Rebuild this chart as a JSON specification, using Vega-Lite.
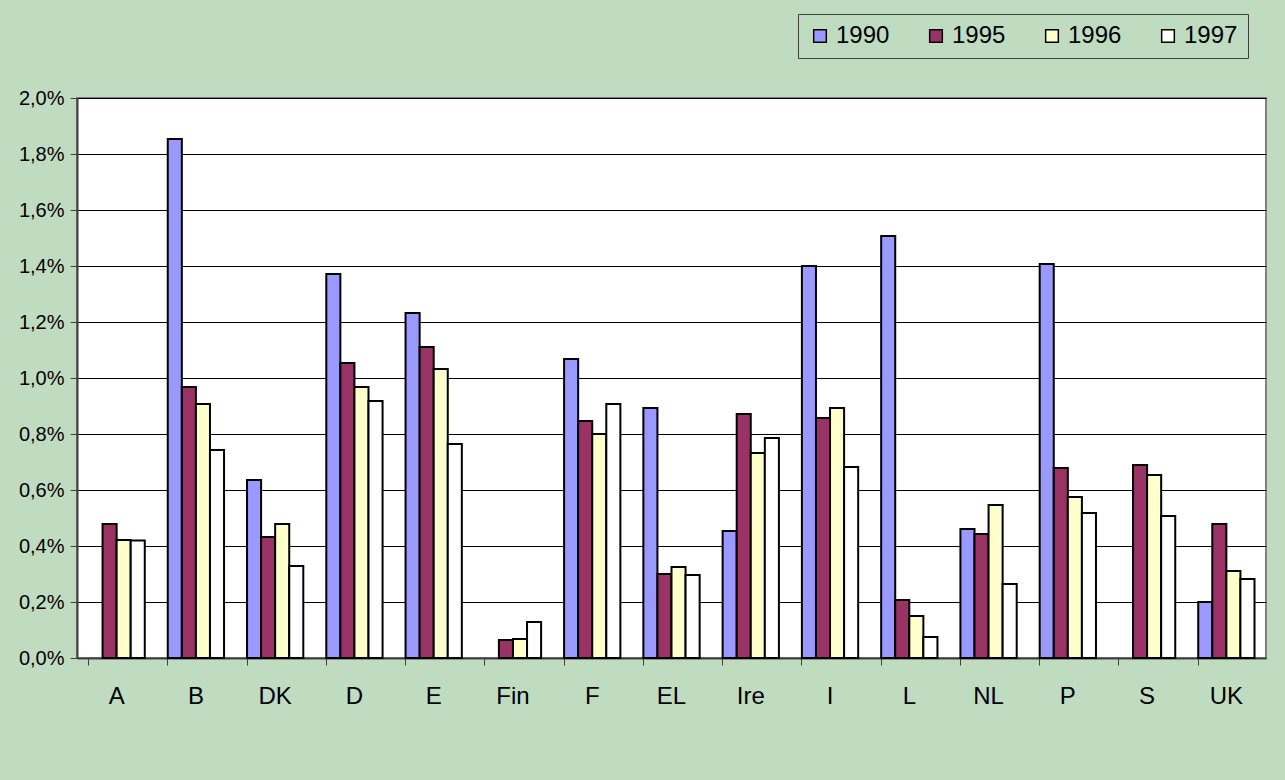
{
  "$schema": "https://vega.github.io/schema/vega-lite/v6.json",
  "width": 1189,
  "height": 560,
  "autosize": {"type": "none"},
  "padding": {"left": 77, "top": 98, "right": 19, "bottom": 122},
  "background": "#C0DCC0",
  "config": {
    "locale": {"number": {"decimal": ",", "thousands": ".", "grouping": [3], "currency": ["", " €"]}},
    "font": "Liberation Sans",
    "view": {"fill": "white", "stroke": "#808080", "strokeWidth": 2}
  },
  "data": {
    "values": [
      {"country": "A", "year": "1995", "value": 0.00479},
      {"country": "A", "year": "1996", "value": 0.00421},
      {"country": "A", "year": "1997", "value": 0.0042},
      {"country": "B", "year": "1990", "value": 0.01854},
      {"country": "B", "year": "1995", "value": 0.00968},
      {"country": "B", "year": "1996", "value": 0.00907},
      {"country": "B", "year": "1997", "value": 0.00743},
      {"country": "DK", "year": "1990", "value": 0.00636},
      {"country": "DK", "year": "1995", "value": 0.00432},
      {"country": "DK", "year": "1996", "value": 0.00479},
      {"country": "DK", "year": "1997", "value": 0.00329},
      {"country": "D", "year": "1990", "value": 0.01371},
      {"country": "D", "year": "1995", "value": 0.01054},
      {"country": "D", "year": "1996", "value": 0.00968},
      {"country": "D", "year": "1997", "value": 0.00918},
      {"country": "E", "year": "1990", "value": 0.01232},
      {"country": "E", "year": "1995", "value": 0.01111},
      {"country": "E", "year": "1996", "value": 0.01032},
      {"country": "E", "year": "1997", "value": 0.00764},
      {"country": "Fin", "year": "1995", "value": 0.00064},
      {"country": "Fin", "year": "1996", "value": 0.00068},
      {"country": "Fin", "year": "1997", "value": 0.00129},
      {"country": "F", "year": "1990", "value": 0.01068},
      {"country": "F", "year": "1995", "value": 0.00846},
      {"country": "F", "year": "1996", "value": 0.008},
      {"country": "F", "year": "1997", "value": 0.00907},
      {"country": "EL", "year": "1990", "value": 0.00893},
      {"country": "EL", "year": "1995", "value": 0.003},
      {"country": "EL", "year": "1996", "value": 0.00325},
      {"country": "EL", "year": "1997", "value": 0.00296},
      {"country": "Ire", "year": "1990", "value": 0.00454},
      {"country": "Ire", "year": "1995", "value": 0.00871},
      {"country": "Ire", "year": "1996", "value": 0.00732},
      {"country": "Ire", "year": "1997", "value": 0.00786},
      {"country": "I", "year": "1990", "value": 0.014},
      {"country": "I", "year": "1995", "value": 0.00857},
      {"country": "I", "year": "1996", "value": 0.00893},
      {"country": "I", "year": "1997", "value": 0.00682},
      {"country": "L", "year": "1990", "value": 0.01507},
      {"country": "L", "year": "1995", "value": 0.00207},
      {"country": "L", "year": "1996", "value": 0.0015},
      {"country": "L", "year": "1997", "value": 0.00075},
      {"country": "NL", "year": "1990", "value": 0.00461},
      {"country": "NL", "year": "1995", "value": 0.00443},
      {"country": "NL", "year": "1996", "value": 0.00546},
      {"country": "NL", "year": "1997", "value": 0.00264},
      {"country": "P", "year": "1990", "value": 0.01407},
      {"country": "P", "year": "1995", "value": 0.00679},
      {"country": "P", "year": "1996", "value": 0.00575},
      {"country": "P", "year": "1997", "value": 0.00518},
      {"country": "S", "year": "1995", "value": 0.00689},
      {"country": "S", "year": "1996", "value": 0.00654},
      {"country": "S", "year": "1997", "value": 0.00507},
      {"country": "UK", "year": "1990", "value": 0.002},
      {"country": "UK", "year": "1995", "value": 0.00479},
      {"country": "UK", "year": "1996", "value": 0.00311},
      {"country": "UK", "year": "1997", "value": 0.00282}
    ]
  },
  "mark": {"type": "bar", "stroke": "black", "strokeWidth": 2},
  "encoding": {
    "x": {
      "field": "country",
      "type": "nominal",
      "sort": ["A", "B", "DK", "D", "E", "Fin", "F", "EL", "Ire", "I", "L", "NL", "P", "S", "UK"],
      "scale": {"paddingInner": 0.29, "paddingOuter": 0.145},
      "axis": {
        "title": null,
        "labelAngle": 0,
        "labelFontSize": 24,
        "labelColor": "black",
        "labelPadding": 19,
        "bandPosition": 0,
        "tickSize": 7,
        "tickColor": "#404040",
        "domainColor": "#404040",
        "domainWidth": 2,
        "grid": false
      }
    },
    "xOffset": {
      "field": "year",
      "type": "nominal",
      "sort": ["1990", "1995", "1996", "1997"],
      "scale": {"paddingInner": 0, "paddingOuter": 0}
    },
    "y": {
      "field": "value",
      "type": "quantitative",
      "scale": {"domain": [0, 0.02], "nice": false},
      "axis": {
        "title": null,
        "format": ".1%",
        "values": [0, 0.002, 0.004, 0.006, 0.008, 0.01, 0.012, 0.014, 0.016, 0.018, 0.02],
        "labelFontSize": 20,
        "labelColor": "black",
        "labelPadding": 6,
        "tickSize": 7,
        "tickColor": "#404040",
        "domainColor": "#404040",
        "domainWidth": 2,
        "gridColor": "black",
        "gridWidth": 1,
        "gridOpacity": 1
      }
    },
    "color": {
      "field": "year",
      "type": "nominal",
      "sort": ["1990", "1995", "1996", "1997"],
      "scale": {"domain": ["1990", "1995", "1996", "1997"], "range": ["#9999FF", "#993366", "#FFFFCC", "#FFFFFF"]},
      "legend": {
        "title": null,
        "orient": "none",
        "direction": "horizontal",
        "legendX": 721,
        "legendY": -84,
        "symbolType": "square",
        "symbolSize": 160,
        "symbolStrokeColor": "black",
        "symbolStrokeWidth": 1.5,
        "symbolOpacity": 1,
        "labelFontSize": 24,
        "labelColor": "black",
        "labelOffset": 4,
        "columnPadding": 34,
        "strokeColor": "#404040",
        "padding": 10
      }
    }
  }
}
